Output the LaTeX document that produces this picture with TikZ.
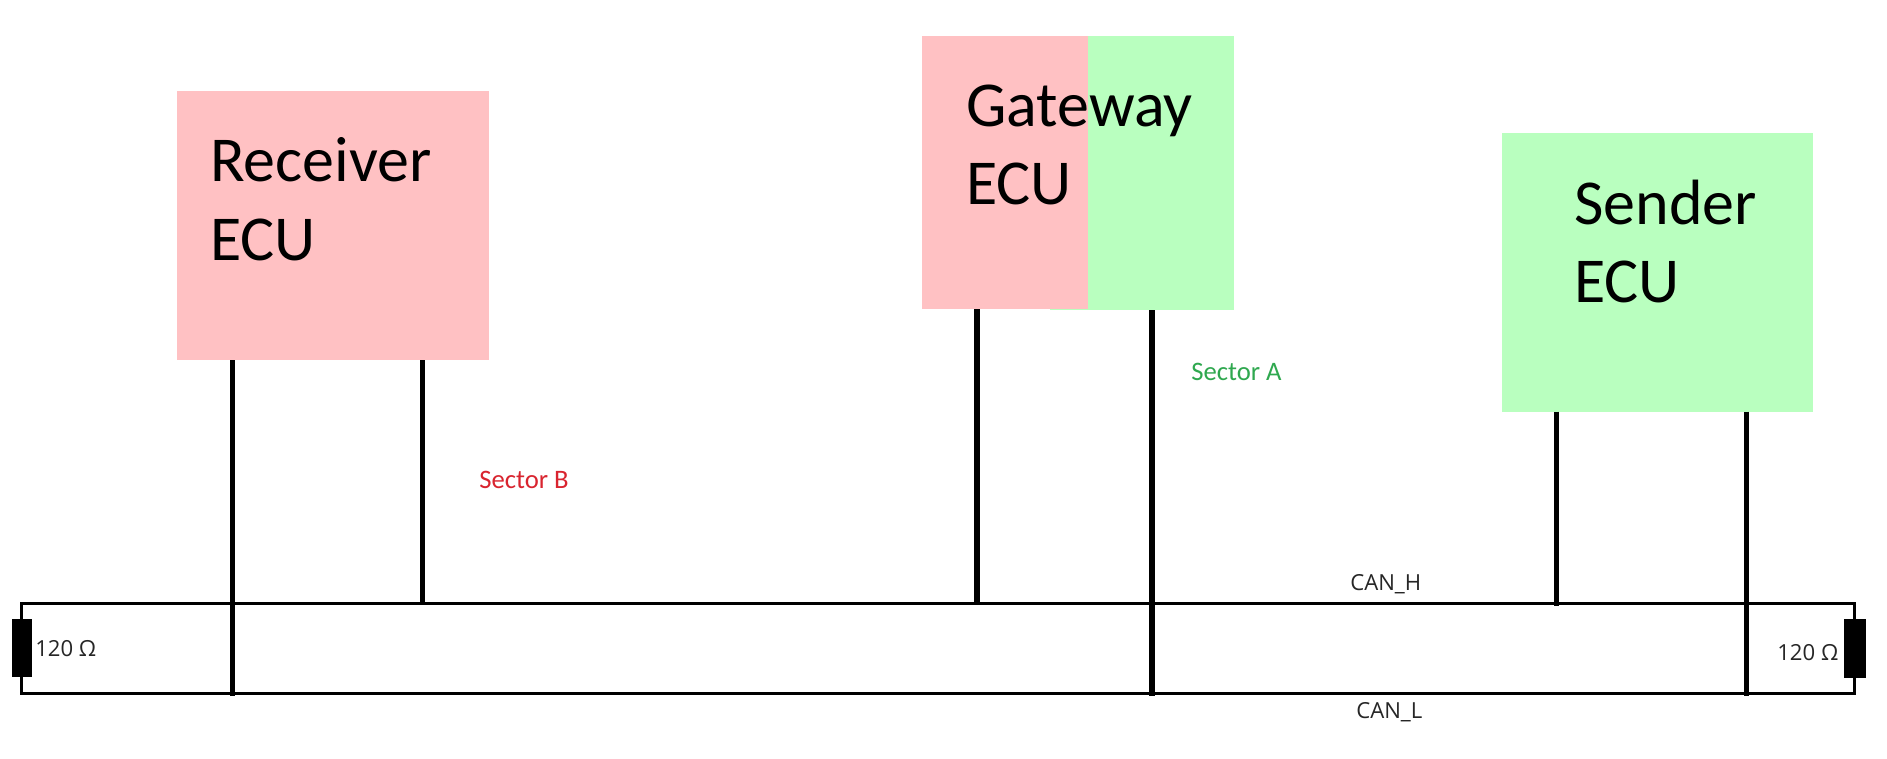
\documentclass[tikz,border=0pt]{standalone}
\usepackage{fontspec}
\setmainfont{Carlito}
\newfontfamily\uifont{Open Sans}
\definecolor{pinkfill}{HTML}{FFC1C3}
\definecolor{greenfill}{HTML}{B9FFBF}
\definecolor{sectorred}{HTML}{D9242F}
\definecolor{sectorgreen}{HTML}{2FA84F}
\tikzset{
  x=0.75pt,y=-0.75pt,
  solidbox/.style n args={3}{rectangle,inner sep=0pt,outer sep=0pt,fill=#1,minimum width=#2*0.75pt,minimum height=#3*0.75pt},
  wire/.style={line width=2.45pt,black,line cap=butt},
  stub/.style={line width=3.9pt,black,line cap=butt},
  big/.style={anchor=base west,inner sep=0pt,font=\fontsize{48}{48}\selectfont},
  small/.style={anchor=base west,inner sep=0pt,font=\uifont\fontsize{16.6}{16.6}\selectfont,text=black!85},
  sector/.style={anchor=base west,inner sep=0pt,font=\fontsize{20}{20}\selectfont},
}
\begin{document}
\begin{tikzpicture}
\useasboundingbox (0,0) rectangle (1887,758);
\path[fill=white] (0,0) rectangle (1887,758);
% boxes
\node[solidbox={pinkfill}{311.4}{269}] (recv) at (333,225.5) {};
\node[solidbox={greenfill}{184}{274}] (gwg) at (1142,173) {};
\node[solidbox={pinkfill}{166}{273}] (gwr) at (1005,172.5) {};
\node[solidbox={greenfill}{310.7}{278.4}] (send) at (1657.35,272.5) {};
% bus corners
\coordinate (tl) at (21.7,603.3);
\coordinate (tr) at (1854.7,603.3);
\coordinate (bl) at (21.7,693.3);
\coordinate (br) at (1854.7,693.3);
\draw[wire,line cap=rect] (tl) -- (tr);
\draw[wire,line cap=rect] (bl) -- (br);
% resistors
\node[solidbox={black}{20}{58}] (rl) at (22,648) {};
\node[solidbox={black}{22}{59}] (rr) at (1855,648.5) {};
\draw[wire] (tl) -- (rl.north -| tl);
\draw[wire] (rl.south -| bl) -- (bl);
\draw[wire] (tr) -- (rr.north -| tr);
\draw[wire] (rr.south -| br) -- (br);
% stubs
\coordinate (recvAe) at (232.3,696);
\coordinate (recvBe) at (422.3,603.3);
\coordinate (gateAe) at (977,603.3);
\coordinate (gateBe) at (1152,696);
\coordinate (sendAe) at (1556.3,606);
\coordinate (sendBe) at (1746.3,696);
\draw[stub] (recv.south -| recvAe) -- (recvAe);
\draw[stub] (recv.south -| recvBe) -- (recvBe);
\draw[stub] (gwr.south -| gateAe) -- (gateAe);
\draw[stub] (gwg.south -| gateBe) -- (gateBe);
\draw[stub] (send.south -| sendAe) -- (sendAe);
\draw[stub] (send.south -| sendBe) -- (sendBe);
% text
\node[big] (t1) at (210,181) {Receiver};
\node[big] (t2) at (210,260) {ECU};
\node[big] (t3) at (966,126) {Gateway};
\node[big] (t4) at (966,204) {ECU};
\node[big] (t5) at (1574,224) {Sender};
\node[big] (t6) at (1574,302.5) {ECU};
\node[sector,text=sectorred] (s1) at (479,488) {Sector B};
\node[sector,text=sectorgreen] (s2) at (1191,380.7) {Sector A};
\node[small] (c1) at (1350,590.7) {CAN\_H};
\node[small] (c2) at (1356,718.3) {CAN\_L};
\node[small] (r1) at (35,656.7) {120 Ω};
\node[small] (r2) at (1777,660) {120 Ω};
\end{tikzpicture}
\end{document}
